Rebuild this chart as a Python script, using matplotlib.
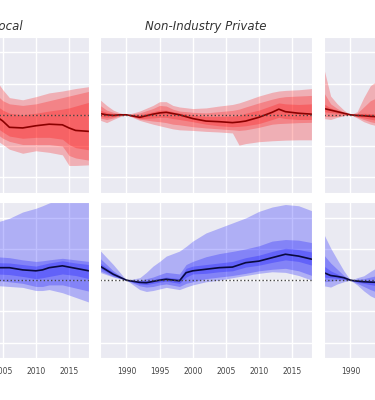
import matplotlib.pyplot as plt
import seaborn as sns

sns.set_style('darkgrid')
plt.rcParams['font.family'] = ['DejaVu Sans']

titles = ['State & Local', 'Non-Industry Private', 'Corporate']
xticks = [1990, 1995, 2000, 2005, 2010, 2015]

# --- State & Local (only the right part is in view) ---
sl_yrs = [2002, 2004, 2005, 2006, 2008, 2010, 2012, 2014, 2015, 2016, 2018]
sl_red_med = [-0.05, -0.05, -0.2, -0.4, -0.42, -0.35, -0.3, -0.32, -0.42, -0.5, -0.53]
sl_red_hi1 = [1.2, 1.1, 0.8, 0.55, 0.48, 0.58, 0.7, 0.76, 0.8, 0.84, 0.9]
sl_red_lo1 = [-0.7, -0.8, -0.95, -1.1, -1.23, -1.15, -1.2, -1.28, -1.62, -1.62, -1.6]
sl_red_hi2 = [0.7, 0.65, 0.45, 0.35, 0.3, 0.35, 0.45, 0.55, 0.6, 0.65, 0.75]
sl_red_lo2 = [-0.5, -0.6, -0.75, -0.85, -0.95, -0.95, -0.95, -1.0, -1.3, -1.38, -1.45]
sl_red_hi3 = [0.35, 0.3, 0.15, 0.05, 0.0, 0.05, 0.12, 0.18, 0.22, 0.28, 0.4]
sl_red_lo3 = [-0.35, -0.4, -0.55, -0.68, -0.75, -0.72, -0.72, -0.78, -0.95, -1.05, -1.12]

sl_yrs_b = [2002, 2004, 2006, 2008, 2010, 2011, 2012, 2014, 2016, 2018]
sl_blue_med = [0.42, 0.4, 0.4, 0.33, 0.3, 0.33, 0.4, 0.46, 0.38, 0.3]
sl_blue_hi1 = [1.75, 1.85, 1.98, 2.18, 2.3, 2.38, 2.47, 2.6, 2.7, 2.8]
sl_blue_lo1 = [-0.15, -0.17, -0.2, -0.23, -0.33, -0.33, -0.3, -0.4, -0.55, -0.7]
sl_blue_hi2 = [0.75, 0.75, 0.72, 0.65, 0.6, 0.62, 0.65, 0.7, 0.65, 0.6]
sl_blue_lo2 = [0.05, 0.0, -0.05, -0.1, -0.2, -0.2, -0.15, -0.15, -0.25, -0.35]
sl_blue_hi3 = [0.58, 0.56, 0.55, 0.5, 0.45, 0.5, 0.55, 0.62, 0.55, 0.5]
sl_blue_lo3 = [0.22, 0.2, 0.18, 0.12, 0.05, 0.08, 0.12, 0.2, 0.15, 0.05]

# --- Non-Industry Private ---
np_yrs = [1986, 1987, 1988, 1989, 1990, 1992, 1994, 1995, 1996, 1997, 1998, 2000,
          2002, 2004, 2006, 2007, 2008, 2010, 2012, 2013, 2014, 2016, 2018]
np_red_med = [0.04, 0.0, -0.02, 0.0, 0.0, -0.08, 0.02, 0.06, 0.08, 0.04, 0.0, -0.12,
              -0.2, -0.22, -0.25, -0.23, -0.2, -0.08, 0.08, 0.18, 0.1, 0.05, 0.02]
np_red_hi1 = [0.48, 0.3, 0.15, 0.06, 0.0, 0.12, 0.3, 0.42, 0.42, 0.3, 0.25, 0.2,
              0.22, 0.28, 0.33, 0.38, 0.45, 0.6, 0.72, 0.76, 0.78, 0.8, 0.84]
np_red_lo1 = [-0.17, -0.25, -0.15, -0.06, 0.0, -0.18, -0.3, -0.35, -0.4, -0.45, -0.48, -0.5,
              -0.53, -0.55, -0.58, -0.97, -0.92, -0.86, -0.83, -0.82, -0.81, -0.8, -0.8]
np_red_hi2 = [0.3, 0.15, 0.08, 0.03, 0.0, 0.06, 0.2, 0.3, 0.28, 0.18, 0.12, 0.08,
              0.06, 0.1, 0.14, 0.18, 0.25, 0.38, 0.5, 0.55, 0.58, 0.6, 0.62]
np_red_lo2 = [-0.1, -0.15, -0.1, -0.03, 0.0, -0.14, -0.2, -0.22, -0.25, -0.3, -0.32, -0.38,
              -0.42, -0.45, -0.48, -0.5, -0.48, -0.4, -0.3, -0.28, -0.27, -0.25, -0.24]
np_red_hi3 = [0.15, 0.08, 0.04, 0.01, 0.0, 0.0, 0.1, 0.15, 0.15, 0.1, 0.06, 0.0,
              -0.05, -0.05, -0.04, -0.02, 0.05, 0.15, 0.3, 0.38, 0.35, 0.33, 0.35]
np_red_lo3 = [-0.05, -0.08, -0.06, -0.02, 0.0, -0.12, -0.1, -0.08, -0.08, -0.12, -0.15, -0.22,
              -0.3, -0.35, -0.38, -0.37, -0.35, -0.28, -0.15, -0.08, -0.12, -0.15, -0.15]

np_yrs_b = [1986, 1988, 1990, 1992, 1993, 1994, 1995, 1996, 1998, 1999, 2000, 2002,
            2004, 2006, 2008, 2010, 2012, 2014, 2016, 2018]
np_blue_med = [0.45, 0.19, 0.0, -0.07, -0.08, -0.04, 0.0, 0.03, -0.02, 0.24, 0.3, 0.35,
               0.4, 0.42, 0.56, 0.61, 0.72, 0.83, 0.77, 0.67]
np_blue_hi1 = [0.95, 0.5, 0.0, 0.08, 0.25, 0.45, 0.6, 0.77, 0.93, 1.08, 1.25, 1.51,
               1.67, 1.83, 1.99, 2.2, 2.34, 2.42, 2.38, 2.22]
np_blue_lo1 = [0.25, 0.1, 0.0, -0.3, -0.36, -0.33, -0.28, -0.23, -0.3, -0.22, -0.15, -0.05,
               0.0, 0.08, 0.15, 0.22, 0.27, 0.25, 0.15, 0.0]
np_blue_hi2 = [0.7, 0.3, 0.0, 0.0, 0.05, 0.1, 0.18, 0.25, 0.2, 0.5, 0.6, 0.75,
               0.85, 0.92, 1.0, 1.1, 1.25, 1.3, 1.28, 1.2]
np_blue_lo2 = [0.3, 0.12, 0.0, -0.18, -0.22, -0.2, -0.15, -0.12, -0.2, -0.1, -0.05, 0.05,
               0.1, 0.15, 0.22, 0.3, 0.35, 0.38, 0.3, 0.15]
np_blue_hi3 = [0.55, 0.25, 0.0, -0.02, -0.01, 0.02, 0.06, 0.1, 0.05, 0.38, 0.45, 0.5,
               0.55, 0.6, 0.72, 0.8, 0.92, 1.02, 0.98, 0.9]
np_blue_lo3 = [0.38, 0.15, 0.0, -0.12, -0.14, -0.1, -0.06, -0.03, -0.1, 0.1, 0.2, 0.22,
               0.27, 0.3, 0.42, 0.48, 0.57, 0.65, 0.6, 0.48]

# --- right-hand panel (only the left part is in view) ---
ip_yrs = [1986, 1987, 1988, 1989, 1990, 1991, 1992, 1993, 1994, 1996]
ip_red_med = [0.2, 0.15, 0.1, 0.05, 0.0, -0.02, -0.03, -0.05, -0.06, -0.08]
ip_red_hi1 = [1.46, 0.6, 0.35, 0.15, 0.0, 0.1, 0.55, 0.93, 1.08, 1.1]
ip_red_lo1 = [-0.12, -0.15, -0.08, -0.03, 0.0, -0.1, -0.22, -0.3, -0.35, -0.4]
ip_red_hi2 = [0.7, 0.35, 0.2, 0.08, 0.0, 0.05, 0.25, 0.45, 0.55, 0.6]
ip_red_lo2 = [-0.05, -0.06, -0.05, -0.02, 0.0, -0.07, -0.15, -0.22, -0.27, -0.3]
ip_red_hi3 = [0.35, 0.22, 0.15, 0.06, 0.0, 0.02, 0.05, 0.04, 0.02, 0.0]
ip_red_lo3 = [0.1, 0.07, 0.05, 0.02, 0.0, -0.05, -0.1, -0.14, -0.18, -0.2]

ip_blue_med = [0.24, 0.15, 0.12, 0.08, 0.0, -0.03, -0.05, -0.06, -0.07, -0.08]
ip_blue_hi1 = [1.46, 1.03, 0.66, 0.3, 0.0, 0.08, 0.14, 0.28, 0.41, 0.6]
ip_blue_lo1 = [-0.18, -0.22, -0.12, -0.05, 0.0, -0.15, -0.34, -0.5, -0.6, -0.7]
ip_blue_hi2 = [0.8, 0.55, 0.35, 0.15, 0.0, 0.03, 0.05, 0.1, 0.15, 0.25]
ip_blue_lo2 = [-0.05, -0.03, 0.0, 0.0, 0.0, -0.1, -0.2, -0.3, -0.38, -0.45]
ip_blue_hi3 = [0.45, 0.3, 0.2, 0.1, 0.0, 0.0, 0.0, -0.01, -0.02, -0.02]
ip_blue_lo3 = [0.1, 0.08, 0.06, 0.03, 0.0, -0.06, -0.1, -0.14, -0.18, -0.2]

red_panels = [
    (sl_yrs, sl_red_med, [(sl_red_lo1, sl_red_hi1), (sl_red_lo2, sl_red_hi2), (sl_red_lo3, sl_red_hi3)]),
    (np_yrs, np_red_med, [(np_red_lo1, np_red_hi1), (np_red_lo2, np_red_hi2), (np_red_lo3, np_red_hi3)]),
    (ip_yrs, ip_red_med, [(ip_red_lo1, ip_red_hi1), (ip_red_lo2, ip_red_hi2), (ip_red_lo3, ip_red_hi3)]),
]
blue_panels = [
    (sl_yrs_b, sl_blue_med, [(sl_blue_lo1, sl_blue_hi1), (sl_blue_lo2, sl_blue_hi2), (sl_blue_lo3, sl_blue_hi3)]),
    (np_yrs_b, np_blue_med, [(np_blue_lo1, np_blue_hi1), (np_blue_lo2, np_blue_hi2), (np_blue_lo3, np_blue_hi3)]),
    (ip_yrs, ip_blue_med, [(ip_blue_lo1, ip_blue_hi1), (ip_blue_lo2, ip_blue_hi2), (ip_blue_lo3, ip_blue_hi3)]),
]

fig = plt.figure(figsize=(3.75, 4.0), dpi=100)

# the picture is a crop of a wider figure, so the outer axes hang off the edges
lefts = [-0.328, 0.2667, 0.864]
w = 0.565
h = 0.391
rows = [(0.5175, red_panels, 'red', 'darkred'),
        (0.104, blue_panels, 'blue', '#0a0a40')]

for r, (bottom, panels, col, line_col) in enumerate(rows):
    for c, (yrs, med, bands) in enumerate(panels):
        ax = fig.add_axes([lefts[c], bottom, w, h])
        for lo, hi in bands:
            ax.fill_between(yrs, lo, hi, color=col, alpha=0.25, lw=0)
        ax.plot(yrs, med, color=line_col, lw=1.2)
        ax.axhline(0, color='#444444', ls=':', lw=1)
        ax.set_xlim(1986, 2018)
        ax.set_ylim(-2.5, 2.5)
        ax.set_xticks(xticks)
        ax.set_yticks([-2, -1, 0, 1, 2])
        ax.grid(True, color='white', lw=1)
        ax.tick_params(length=0, labelsize=5.5, labelcolor='#444444', pad=6)
        ax.tick_params(axis='y', labelleft=False)
        if r == 0:
            ax.tick_params(axis='x', labelbottom=False)
            ax.set_title(titles[c], fontsize=8.5, style='italic', color='#333333', pad=5)

fig.savefig('out.png', dpi=100)
